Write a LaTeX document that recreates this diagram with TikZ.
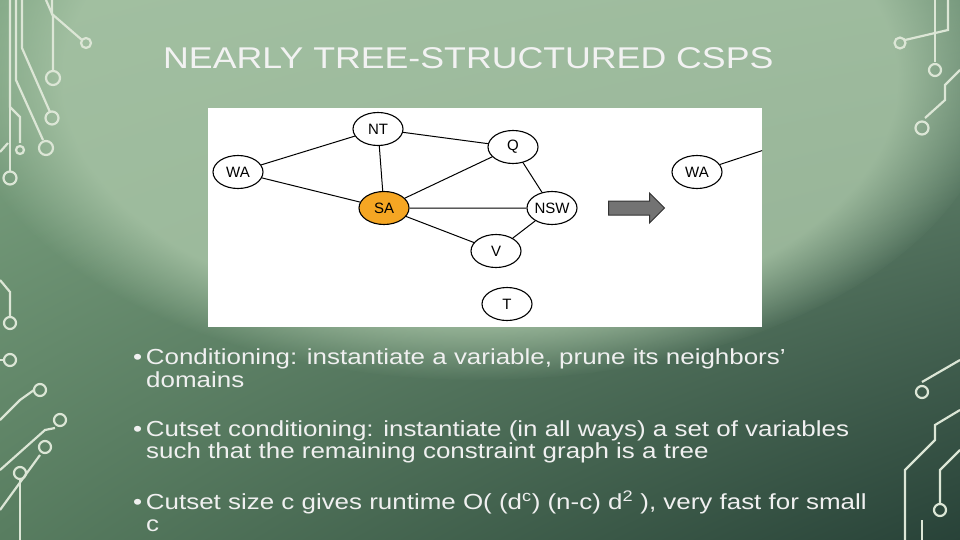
\documentclass[tikz,border=0pt]{standalone}
\usepackage{fontspec}
\setmainfont{Liberation Sans}[FakeStretch=1.19]
\usetikzlibrary{shapes.arrows,shapes.geometric,shadings,fadings}
\newfontfamily\nodefont{Liberation Sans}
\definecolor{circ}{HTML}{DCE6D6}
\definecolor{sa}{HTML}{F5A623}
\definecolor{bgul}{RGB}{128,166,132}
\definecolor{bgur}{RGB}{110,145,118}
\definecolor{bgll}{RGB}{88,125,96}
\definecolor{bglr}{RGB}{40,66,56}
\definecolor{bgc}{RGB}{170,198,168}
\begin{document}
\begin{tikzpicture}[x=1pt,y=-1pt,
  vnode/.style={ellipse,draw=black,line width=1.1pt,fill=white,minimum width=50pt,minimum height=33pt,inner sep=0pt,font=\nodefont\fontsize{15}{15}\selectfont},
  edge/.style={line width=1pt},
  tr/.style={circ,line width=2.2pt},
  pad/.style={circ,line width=2.2pt},
  bul/.style={anchor=north west,text=white!94!black,font=\fontsize{21.8}{22.5}\selectfont,align=left,inner sep=0pt}]
\useasboundingbox (0,0) rectangle (960,540);
\shade[upper left=bgul,upper right=bgur,lower left=bgll,lower right=bglr] (0,0) rectangle (960,540);
\fill[bgc,path fading=circle with fuzzy edge 20 percent,opacity=0.8] (480,80) ellipse (520 and 300);
% circuits left top
\draw[tr] (52,0)--(52,14)--(82,40);
\draw[pad] (86,43) circle (5);
\draw[tr] (46,0)--(53,16)--(53,70);
\draw[pad] (53,78) circle (7);
\draw[tr] (22,0)--(22,48)--(50,112);
\draw[pad] (52,118) circle (6.5);
\draw[tr] (16,0)--(16,80)--(43,140);
\draw[pad] (46,148) circle (7);
\draw[tr] (10,0)--(10,107)--(20,117)--(20,143);
\draw[pad] (20,150) circle (4);
\draw[tr] (10,107)--(10,171);
\draw[pad] (10,178) circle (6.5);
\draw[tr] (0,152)--(8,143);
% left middle
\draw[tr] (0,280)--(10,292)--(10,316);
\draw[pad] (10,323) circle (6);
\draw[tr] (0,360) -- (3,360);
\draw[pad] (10,360) circle (6);
\draw[tr] (0,420)--(20,400)--(34,390);
\draw[pad] (40,390) circle (6);
\draw[tr] (0,470)--(45,430)--(55,428);
\draw[pad] (60,420) circle (6);
\draw[tr] (0,510)--(40,455);
\draw[pad] (45,447) circle (6);
\draw[tr] (20,540)--(20,480);
\draw[pad] (20,473) circle (6);
% right top
\draw[tr] (948,0)--(948,30)--(905,40);
\draw[pad] (900,43) circle (5.5);
\draw[tr] (935,0)--(935,62);
\draw[pad] (935,70) circle (6);
\draw[tr] (960,70)--(945,85)--(945,100)--(925,118);
\draw[pad] (922,128) circle (6.5);
% right bottom
\draw[tr] (960,360)--(922,382);
\draw[pad] (922,392) circle (6);
\draw[tr] (960,410)--(935,425)--(935,440)--(905,470)--(905,540);
\draw[tr] (960,450)--(940,470)--(940,503);
\draw[pad] (940,510) circle (6);
\draw[tr] (922,540)--(922,520);
% title
\node[text=white!95!black,font=\fontsize{30}{30}\selectfont,anchor=west,inner sep=0pt] (title) at (163,58) {NEARLY TREE-STRUCTURED CSPS};
% image
\fill[white] (208,108) rectangle (762,327);
\begin{scope}
\clip (208,108) rectangle (762,327);
\node[vnode] (wa) at (238,172) {WA};
\node[vnode] (nt) at (378,129) {NT};
\node[vnode] (q) at (513,147) {Q};
\node[vnode,fill=sa] (sa) at (384,208) {SA};
\node[vnode] (nsw) at (552,208) {NSW};
\node[vnode] (v) at (496,251) {V};
\node[vnode] (t) at (507,304) {T};
\node[vnode] (wa2) at (697,172) {WA};
\coordinate (c2) at (770,148);
\draw[edge] (wa)--(nt) (wa)--(sa) (nt)--(sa) (nt)--(q) (sa)--(q) (sa)--(nsw) (sa)--(v) (q)--(nsw) (nsw)--(v) (wa2)--(c2);
\node[single arrow,draw=black!80,fill=black!55,line width=1pt,minimum height=56pt,minimum width=30pt,single arrow head extend=4pt,inner sep=3pt] (arr) at (633,208) {};
\end{scope}
% bullets
\node[bul] (b1) at (133,349) {•\,Conditioning: instantiate a variable, prune its neighbors\char"0027\\\hspace*{13pt}domains};
\node[bul] (b2) at (133,420) {•\,Cutset conditioning: instantiate (in all ways) a set of variables\\\hspace*{13pt}such that the remaining constraint graph is a tree};
\node[bul] (b3) at (133,491) {•\,Cutset size c gives runtime O( (d\textsuperscript{c}) (n-c) d\textsuperscript{2} ), very fast for small\\\hspace*{13pt}c};
\end{tikzpicture}
\end{document}
